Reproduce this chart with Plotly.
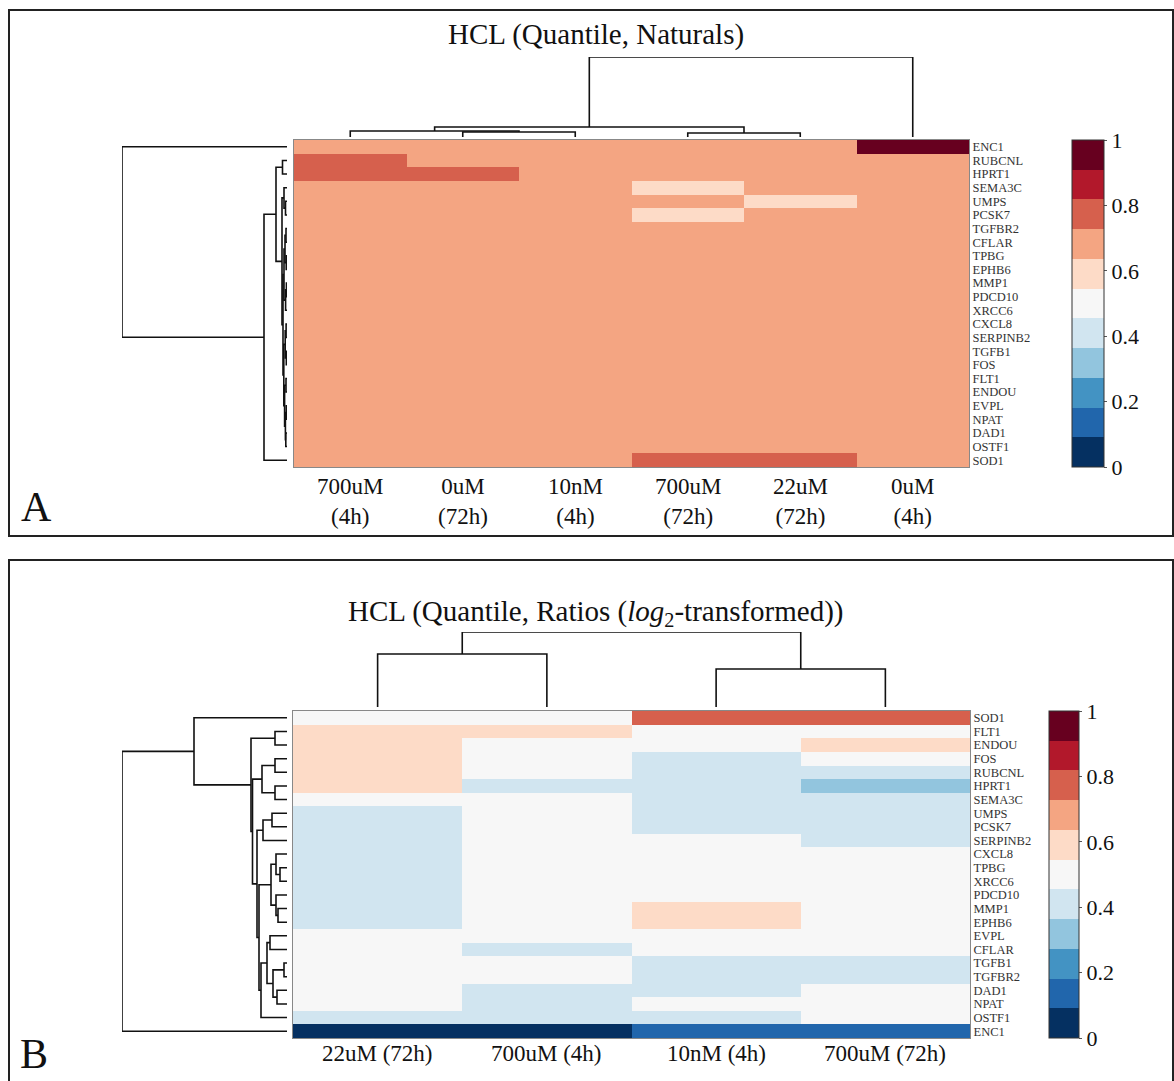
import plotly.graph_objects as go

W, H = 1174, 1081
FONT = "Liberation Serif, Times New Roman, serif"

# ---------------- data ----------------
palette = ['#053061', '#2166ac', '#4393c3', '#92c5de', '#d1e5f0', '#f7f7f7',
           '#fddbc7', '#f4a582', '#d6604d', '#b2182b', '#67001f']
cbar_ticks = [0, 0.2, 0.4, 0.6, 0.8, 1]
cbar_ticktext = ['0', '0.2', '0.4', '0.6', '0.8', '1']

title_a = "HCL (Quantile, Naturals)"
title_b = "HCL (Quantile, Ratios (<i>log</i><sub>2</sub>-transformed))"

genes_a = ["ENC1", "RUBCNL", "HPRT1", "SEMA3C", "UMPS", "PCSK7", "TGFBR2", "CFLAR",
           "TPBG", "EPHB6", "MMP1", "PDCD10", "XRCC6", "CXCL8", "SERPINB2", "TGFB1",
           "FOS", "FLT1", "ENDOU", "EVPL", "NPAT", "DAD1", "OSTF1", "SOD1"]
samples_a = ["700uM<br>(4h)", "0uM<br>(72h)", "10nM<br>(4h)", "700uM<br>(72h)",
             "22uM<br>(72h)", "0uM<br>(4h)"]
values_a = [
    [0.68, 0.68, 0.68, 0.68, 0.68, 0.97],  # ENC1
    [0.77, 0.68, 0.68, 0.68, 0.68, 0.68],  # RUBCNL
    [0.77, 0.77, 0.68, 0.68, 0.68, 0.68],  # HPRT1
    [0.68, 0.68, 0.68, 0.59, 0.68, 0.68],  # SEMA3C
    [0.68, 0.68, 0.68, 0.68, 0.59, 0.68],  # UMPS
    [0.68, 0.68, 0.68, 0.59, 0.68, 0.68],  # PCSK7
    [0.68, 0.68, 0.68, 0.68, 0.68, 0.68],  # TGFBR2
    [0.68, 0.68, 0.68, 0.68, 0.68, 0.68],  # CFLAR
    [0.68, 0.68, 0.68, 0.68, 0.68, 0.68],  # TPBG
    [0.68, 0.68, 0.68, 0.68, 0.68, 0.68],  # EPHB6
    [0.68, 0.68, 0.68, 0.68, 0.68, 0.68],  # MMP1
    [0.68, 0.68, 0.68, 0.68, 0.68, 0.68],  # PDCD10
    [0.68, 0.68, 0.68, 0.68, 0.68, 0.68],  # XRCC6
    [0.68, 0.68, 0.68, 0.68, 0.68, 0.68],  # CXCL8
    [0.68, 0.68, 0.68, 0.68, 0.68, 0.68],  # SERPINB2
    [0.68, 0.68, 0.68, 0.68, 0.68, 0.68],  # TGFB1
    [0.68, 0.68, 0.68, 0.68, 0.68, 0.68],  # FOS
    [0.68, 0.68, 0.68, 0.68, 0.68, 0.68],  # FLT1
    [0.68, 0.68, 0.68, 0.68, 0.68, 0.68],  # ENDOU
    [0.68, 0.68, 0.68, 0.68, 0.68, 0.68],  # EVPL
    [0.68, 0.68, 0.68, 0.68, 0.68, 0.68],  # NPAT
    [0.68, 0.68, 0.68, 0.68, 0.68, 0.68],  # DAD1
    [0.68, 0.68, 0.68, 0.68, 0.68, 0.68],  # OSTF1
    [0.68, 0.68, 0.68, 0.77, 0.77, 0.68],  # SOD1
]
# linkage trees: (left, right, merge height); ints are leaf positions
row_tree_a = (0, (((1, 2, 4.5),
                   ((3, (4, 5, 1.5), 3.0),
                    ((((6, 7, 1.0), (8, 9, 0.8), 2.0), ((10, 11, 0.6), 12, 1.4), 3.0),
                     (((13, 14, 0.9), (15, 16, 0.7), 1.8),
                      ((17, 18, 1.0), ((19, 20, 0.8), (21, 22, 1.2), 1.6), 2.4), 3.2),
                     4.0),
                    5.0),
                   11.0),
                  23, 23.0),
              165.0)
col_tree_a = (((0, (1, 2, 5.0), 6.0), (3, 4, 4.0), 10.0), 5, 80.0)

genes_b = ["SOD1", "FLT1", "ENDOU", "FOS", "RUBCNL", "HPRT1", "SEMA3C", "UMPS", "PCSK7",
           "SERPINB2", "CXCL8", "TPBG", "XRCC6", "PDCD10", "MMP1", "EPHB6", "EVPL",
           "CFLAR", "TGFB1", "TGFBR2", "DAD1", "NPAT", "OSTF1", "ENC1"]
samples_b = ["22uM (72h)", "700uM (4h)", "10nM (4h)", "700uM (72h)"]
values_b = [
    [0.50, 0.50, 0.77, 0.77],  # SOD1
    [0.59, 0.59, 0.50, 0.50],  # FLT1
    [0.59, 0.50, 0.50, 0.59],  # ENDOU
    [0.59, 0.50, 0.41, 0.50],  # FOS
    [0.59, 0.50, 0.41, 0.41],  # RUBCNL
    [0.59, 0.41, 0.41, 0.32],  # HPRT1
    [0.50, 0.50, 0.41, 0.41],  # SEMA3C
    [0.41, 0.50, 0.41, 0.41],  # UMPS
    [0.41, 0.50, 0.41, 0.41],  # PCSK7
    [0.41, 0.50, 0.50, 0.41],  # SERPINB2
    [0.41, 0.50, 0.50, 0.50],  # CXCL8
    [0.41, 0.50, 0.50, 0.50],  # TPBG
    [0.41, 0.50, 0.50, 0.50],  # XRCC6
    [0.41, 0.50, 0.50, 0.50],  # PDCD10
    [0.41, 0.50, 0.59, 0.50],  # MMP1
    [0.41, 0.50, 0.59, 0.50],  # EPHB6
    [0.50, 0.50, 0.50, 0.50],  # EVPL
    [0.50, 0.41, 0.50, 0.50],  # CFLAR
    [0.50, 0.50, 0.41, 0.41],  # TGFB1
    [0.50, 0.50, 0.41, 0.41],  # TGFBR2
    [0.50, 0.41, 0.41, 0.50],  # DAD1
    [0.50, 0.41, 0.50, 0.50],  # NPAT
    [0.41, 0.41, 0.41, 0.50],  # OSTF1
    [0.03, 0.03, 0.14, 0.14],  # ENC1
]
row_tree_b = (((0,
                ((1, 2, 12.0),
                 (((3, 4, 12.0), (5, 6, 12.0), 25.0),
                  (((7, 8, 15.0), 9, 24.0),
                   (((10, (11, 12, 7.0), 11.0), (13, (14, 15, 9.0), 11.0), 16.0),
                    ((((16, 17, 17.0), ((18, 19, 3.0), (20, 21, 10.0), 14.0), 20.0)), 22, 26.0),
                    28.0),
                   30.0),
                  34.5),
                 36.0),
                93.0)),
              23, 165.0)
col_tree_b = ((0, 1, 53.0), (2, 3, 38.0), 75.0)


# ---------------- helpers ----------------
def fx(p):
    return p / W


def fy(p):
    return 1 - p / H


def dendro(node, xs, ys, leaf_axis_first):
    """Walk linkage tree, return (center, height), append U-shaped segments."""
    if isinstance(node, int):
        return float(node), 0.0
    left, right, h = node
    cl, hl = dendro(left, xs, ys, leaf_axis_first)
    cr, hr = dendro(right, xs, ys, leaf_axis_first)
    pos = [cl, cl, cr, cr]
    hts = [hl, h, h, hr]
    if leaf_axis_first:
        xs += pos + [None]
        ys += hts + [None]
    else:
        xs += hts + [None]
        ys += pos + [None]
    return (cl + cr) / 2, h


def tree_height(node):
    return 0.0 if isinstance(node, int) else node[2]


cscale = []
for i, c in enumerate(palette):
    cscale.append([i / len(palette), c])
    cscale.append([(i + 1) / len(palette), c])

fig = go.Figure()
annotations = []


def add_panel(values, genes, samples, row_tree, col_tree, ax, hm_box, left_x, top_y,
              cbar_box, label_y):
    hx, hy, dx, dy = ax
    x0, y0, x1, y1 = hm_box
    nrow, ncol = len(genes), len(samples)
    hxn = "x" if hx == 1 else f"x{hx}"
    hyn = "y" if hy == 1 else f"y{hy}"
    cx0, cy0, cx1, cy1 = cbar_box
    fig.add_trace(go.Heatmap(
        z=values, x=list(range(ncol)), y=list(range(nrow)),
        zmin=0, zmax=1, colorscale=cscale, xaxis=hxn, yaxis=hyn,
        colorbar=dict(x=fx(cx0), xanchor="left", y=fy(cy0), yanchor="top",
                      len=(cy1 - cy0) / H, lenmode="fraction",
                      thickness=cx1 - cx0, thicknessmode="pixels",
                      xpad=0, ypad=0, outlinewidth=1, outlinecolor="#333",
                      tickvals=cbar_ticks, ticktext=cbar_ticktext,
                      ticks="outside", ticklen=3, tickcolor="#555",
                      tickfont=dict(family=FONT, size=22, color="#111")),
    ))
    # left dendrogram
    xs, ys = [], []
    dendro(row_tree, xs, ys, False)
    fig.add_trace(go.Scatter(x=xs, y=ys, mode="lines", xaxis=f"x{dx}", yaxis=hyn,
                             line=dict(color="#111", width=1.6), hoverinfo="skip",
                             showlegend=False))
    # top dendrogram
    xs, ys = [], []
    dendro(col_tree, xs, ys, True)
    fig.add_trace(go.Scatter(x=xs, y=ys, mode="lines", xaxis=hxn, yaxis=f"y{dy}",
                             line=dict(color="#111", width=1.6), hoverinfo="skip",
                             showlegend=False))
    axkw = dict(showgrid=False, zeroline=False)
    fig.layout[f"xaxis{'' if hx == 1 else hx}"] = dict(
        domain=[fx(x0), fx(x1)], range=[-0.5, ncol - 0.5], anchor=hyn,
        showticklabels=False, ticks="", showline=True,
        mirror=True, linecolor="#888", linewidth=1, **axkw)
    fig.layout[f"yaxis{'' if hy == 1 else hy}"] = dict(
        domain=[fy(y1), fy(y0)], range=[nrow - 0.5, -0.5], anchor=hxn, side="right",
        tickvals=list(range(nrow)), ticktext=genes, ticks="", showline=True,
        mirror=True, linecolor="#888", linewidth=1, ticklabelstandoff=0,
        tickfont=dict(family=FONT, size=12.5, color="#333"), **axkw)
    lx0, lx1 = left_x
    fig.layout[f"xaxis{dx}"] = dict(domain=[fx(lx0), fx(lx1)],
                                    range=[tree_height(row_tree), 0], anchor=hyn,
                                    visible=False, **axkw)
    ty0, ty1 = top_y
    fig.layout[f"yaxis{dy}"] = dict(domain=[fy(ty0), fy(ty1)],
                                    range=[0, tree_height(col_tree)], anchor=hxn,
                                    visible=False, **axkw)
    # column labels
    for i, s in enumerate(samples):
        annotations.append(dict(text=s, x=i, xref=hxn, y=fy(label_y), yref="paper",
                                xanchor="center", yanchor="middle", showarrow=False,
                                font=dict(family=FONT, size=23, color="#111")))


add_panel(values_a, genes_a, samples_a, row_tree_a, col_tree_a, (1, 1, 2, 2),
          (294, 140, 969, 467), (122, 287), (137, 57), (1072, 140, 1104, 467), 501)
add_panel(values_b, genes_b, samples_b, row_tree_b, col_tree_b, (3, 3, 4, 4),
          (293, 711, 970, 1038), (122, 287), (707, 632), (1049, 711, 1079, 1038), 1053)

shapes = []
for (bx0, by0, bx1, by1) in [(9, 10, 1173, 536), (9, 560, 1173, 1083)]:
    shapes.append(dict(type="rect", xref="paper", yref="paper",
                       x0=fx(bx0), x1=fx(bx1), y0=fy(by1), y1=fy(by0),
                       line=dict(color="#222", width=2), fillcolor="rgba(0,0,0,0)"))

annotations += [
    dict(text=title_a, x=fx(596), y=fy(35), xref="paper", yref="paper",
         xanchor="center", yanchor="middle", showarrow=False,
         font=dict(family=FONT, size=29, color="#111")),
    dict(text=title_b, x=fx(596), y=fy(613), xref="paper", yref="paper",
         xanchor="center", yanchor="middle", showarrow=False,
         font=dict(family=FONT, size=29, color="#111")),
    dict(text="A", x=fx(19), y=fy(507), xref="paper", yref="paper",
         xanchor="left", yanchor="middle", showarrow=False,
         font=dict(family=FONT, size=42, color="#111")),
    dict(text="B", x=fx(18), y=fy(1054), xref="paper", yref="paper",
         xanchor="left", yanchor="middle", showarrow=False,
         font=dict(family=FONT, size=42, color="#111")),
]

fig.update_layout(width=W, height=H, margin=dict(l=0, r=0, t=0, b=0),
                  paper_bgcolor="white", plot_bgcolor="white",
                  shapes=shapes, annotations=annotations, showlegend=False,
                  font=dict(family=FONT))
fig.write_html("out.html")
